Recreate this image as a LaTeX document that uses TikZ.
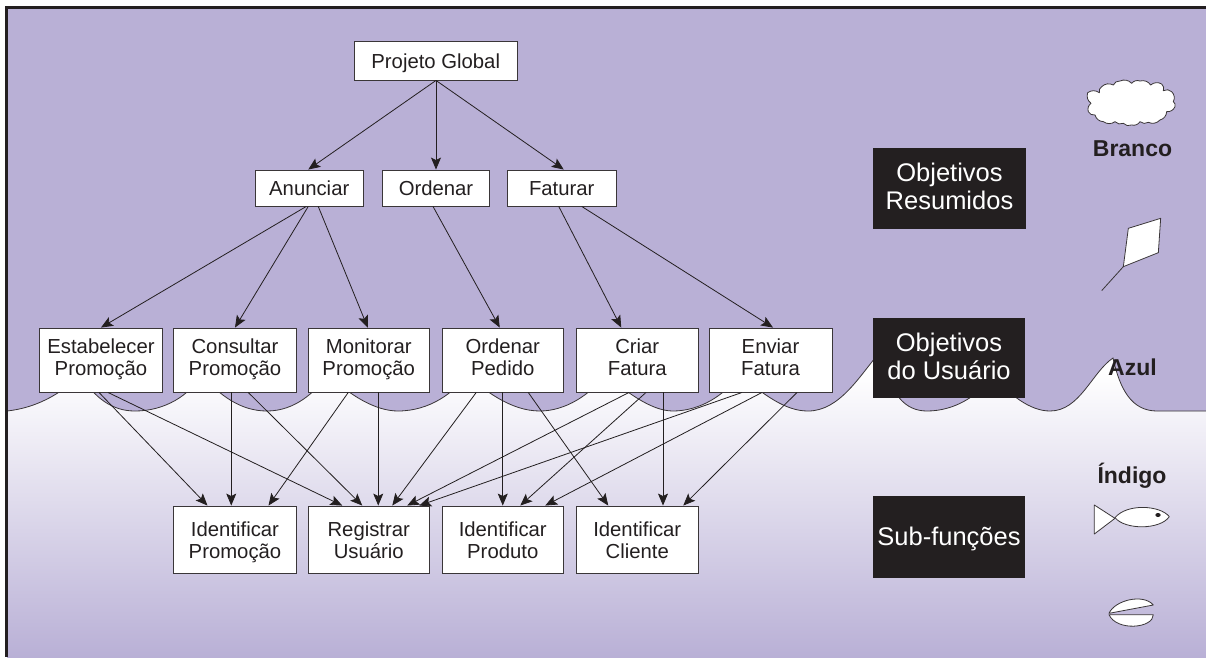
\documentclass[tikz,border=0pt]{standalone}
\usepackage{fontspec}
\setmainfont{Liberation Sans}
\usetikzlibrary{arrows.meta}
\definecolor{lil}{HTML}{B9B0D6}
\definecolor{ink}{HTML}{231F20}
\definecolor{edgec}{HTML}{3A3638}
\def\boxh{21pt}
\newcommand{\lowr}{\rule{0pt}{21pt}}
\tikzset{
  box/.style={draw=edgec,fill=white,line width=0.9pt,inner sep=0,align=center,text=ink,font=\fontsize{20.3}{22}\selectfont,
    execute at begin node={\rule{0pt}{\boxh}},execute at end node={\rule[-6pt]{0pt}{6pt}}},
  dark/.style={fill=ink,inner sep=0,align=center,text=white,font=\fontsize{25.5}{28}\selectfont},
  lab/.style={inner sep=0,text=ink,font=\fontsize{23}{26}\selectfont\bfseries},
  arr/.style={draw=ink,line width=0.8pt,-{Stealth[length=12pt,width=10pt,inset=2.5pt]}},
  icon/.style={draw=edgec,fill=white,line width=0.8pt,line join=round}
}
\newcommand{\conn}[4]{\draw[arr] ([xshift=#2]#1.south) -- ([xshift=#4]#3.north);}
\newcommand{\mkbox}[6]{\node[box,minimum width=#4-#3,minimum height=#6-#5] (#1) at ({(#3+#4)/2},{(#5+#6)/2}) {#2};}
\begin{document}
\begin{tikzpicture}[x=1pt,y=-1pt]
\useasboundingbox (0,0) rectangle (1206,657);
\fill[white] (0,0) rectangle (1206,657);
% sea gradient
\shade[top color=white,bottom color=lil] (7,372) rectangle (1206,657);
% sky with wave edge
\path[fill=lil] (7,7) -- (1206,7) -- (1206,411) -- (1157,411)
  .. controls (1132,411) and (1120,390) .. (1113,358)
  .. controls (1092,372) and (1080,411) .. (1050,411)
  .. controls (1030,411) and (1010,395) .. (992,375)
  .. controls (980,395) and (955,411) .. (927,411)
  .. controls (905,411) and (890,395) .. (880,352)
  .. controls (860,375) and (840,411) .. (808,411)
  .. controls (785,411) and (765,395) .. (739,375)
  .. controls (725,395) and (700,411) .. (673,411)
  .. controls (650,411) and (625,390) .. (605,375)
  .. controls (590,395) and (565,411) .. (540,411)
  .. controls (510,411) and (485,390) .. (466,375)
  .. controls (455,392) and (430,411) .. (398,411)
  .. controls (375,411) and (350,395) .. (328,375)
  .. controls (315,392) and (295,411) .. (267,411)
  .. controls (240,411) and (220,395) .. (201,375)
  .. controls (190,395) and (165,411) .. (135,411)
  .. controls (112,411) and (95,398) .. (80,375)
  .. controls (60,395) and (35,408) .. (7,411) -- cycle;
\draw[edgec,line width=0.8pt] (1206,411) -- (1157,411)
  .. controls (1132,411) and (1120,390) .. (1113,358)
  .. controls (1092,372) and (1080,411) .. (1050,411)
  .. controls (1030,411) and (1010,395) .. (992,375)
  .. controls (980,395) and (955,411) .. (927,411)
  .. controls (905,411) and (890,395) .. (880,352)
  .. controls (860,375) and (840,411) .. (808,411)
  .. controls (785,411) and (765,395) .. (739,375)
  .. controls (725,395) and (700,411) .. (673,411)
  .. controls (650,411) and (625,390) .. (605,375)
  .. controls (590,395) and (565,411) .. (540,411)
  .. controls (510,411) and (485,390) .. (466,375)
  .. controls (455,392) and (430,411) .. (398,411)
  .. controls (375,411) and (350,395) .. (328,375)
  .. controls (315,392) and (295,411) .. (267,411)
  .. controls (240,411) and (220,395) .. (201,375)
  .. controls (190,395) and (165,411) .. (135,411)
  .. controls (112,411) and (95,398) .. (80,375)
  .. controls (60,395) and (35,408) .. (7,411);
% frame
\fill[ink] (5,5.5) rectangle (1206,8.5);
\fill[ink] (5,5.5) rectangle (8,657);
% boxes
\mkbox{glob}{Projeto Global}{354}{517.5}{41}{80}
\mkbox{anu}{Anunciar}{255}{363.5}{170}{206}
\mkbox{ord}{Ordenar}{382.5}{489.5}{170}{206}
\mkbox{fat}{Faturar}{507.5}{616}{170}{206}
\def\boxh{17pt}
\mkbox{est}{Estabelecer\\Promoção}{39.5}{162.5}{328}{392}
\mkbox{con}{Consultar\\Promoção}{173.5}{296.5}{328}{392}
\mkbox{mon}{Monitorar\\Promoção}{308}{429.5}{328}{392}
\mkbox{ped}{Ordenar\\Pedido}{442}{563.5}{328}{392}
\mkbox{cri}{Criar\\Fatura}{576.5}{698}{328}{392}
\mkbox{env}{Enviar\\Fatura}{709}{832}{328}{392}
\mkbox{ipr}{Identificar\lowr\\Promoção}{173.5}{296.5}{506}{573}
\mkbox{reg}{Registrar\lowr\\Usuário}{308}{429.5}{506}{573}
\mkbox{pro}{Identificar\lowr\\Produto}{442}{563.5}{506}{573}
\mkbox{cli}{Identificar\lowr\\Cliente}{576.5}{698}{506}{573}
% dark panels
\node[dark,minimum width=153pt,minimum height=81pt,execute at end node={\rule[-5.3pt]{0pt}{5.3pt}}] (d1) at (949.5,188.5) {Objetivos\\Resumidos};
\node[dark,minimum width=152pt,minimum height=80pt,execute at end node={\rule[-3.3pt]{0pt}{3.3pt}}] (d2) at (949,358) {Objetivos\\do Usuário};
\node[dark,minimum width=152pt,minimum height=82pt,execute at begin node={\rule{0pt}{21.5pt}}] (d3) at (949,537) {Sub-funções};
% connectors
\conn{glob}{0.25}{anu}{-1}
\conn{glob}{0.25}{ord}{0}
\conn{glob}{0.25}{fat}{2}
\conn{anu}{-3}{est}{0}
\conn{anu}{-1}{con}{0}
\conn{anu}{9}{mon}{-1}
\conn{ord}{-3}{ped}{-3}
\conn{fat}{-3}{cri}{-16}
\conn{fat}{20}{env}{2.5}
\conn{est}{-2}{ipr}{-27.5}
\conn{est}{7}{reg}{-26.5}
\conn{con}{-3.75}{ipr}{-3.75}
\conn{con}{13.25}{reg}{-6.5}
\conn{mon}{-20.5}{ipr}{33.5}
\conn{mon}{9.5}{reg}{9.5}
\conn{ped}{-26.5}{reg}{23.5}
\conn{ped}{0}{pro}{0}
\conn{ped}{25.5}{cli}{-29}
\conn{cri}{-8.25}{reg}{38.5}
\conn{cri}{8.75}{pro}{17.5}
\conn{cri}{25.75}{cli}{25.75}
\conn{env}{-28.5}{reg}{50.5}
\conn{env}{-8.5}{pro}{42.5}
\conn{env}{26.5}{cli}{46}
% side labels
\node[lab,anchor=base] (branco) at (1132.5,156) {Branco};
\node[lab,anchor=base] (azul) at (1132.5,375) {Azul};
\node[lab,anchor=base] (indigo) at (1132,483) {Índigo};
% cloud
\begin{scope}[shift={(1060,70)},x=0.3333pt,y=-0.3333pt]
\draw[icon] (83,68) to[bend left=35] (118,68) to[bend left=35] (125,50) to[bend left=35] (160,45) to[bend left=35] (180,33) to[bend left=35] (215,40) to[bend left=35] (240,33) to[bend left=35] (272,45) to[bend left=35] (305,42) to[bend left=35] (310,62) to[bend left=35] (335,65) to[bend left=35] (340,95) to[bend left=35] (345,110) to[bend left=35] (320,125) to[bend left=35] (300,150) to[bend left=35] (265,157) to[bend left=35] (240,155) to[bend left=35] (215,165) to[bend left=35] (190,160) to[bend left=35] (165,155) to[bend left=35] (130,155) to[bend left=35] (105,135) to[bend left=35] (85,125) to[bend left=35] (93,100) to[bend left=35] (83,68) -- cycle;
\draw[icon] (205,475) -- (302,445) -- (295,548) -- (190,590) -- cycle;
\draw[edgec,line width=0.8pt] (190,590) -- (125,662);
\end{scope}
\begin{scope}[shift={(1060,450)},x=0.3333pt,y=-0.3333pt]
\draw[icon] (103,165) -- (165,205) -- (103,252) -- cycle;
\draw[icon] (165,203) .. controls (200,160) and (300,165) .. (328,200) .. controls (300,240) and (195,240) .. (165,203) -- cycle;
\fill[ink] (294,195) ellipse[x radius=8,y radius=6];
\draw[icon] (147,490) .. controls (165,450) and (250,430) .. (280,465) -- cycle;
\draw[icon] (147,494) -- (280,494) .. controls (280,535) and (170,545) .. (147,494) -- cycle;
\end{scope}
\end{tikzpicture}
\end{document}
